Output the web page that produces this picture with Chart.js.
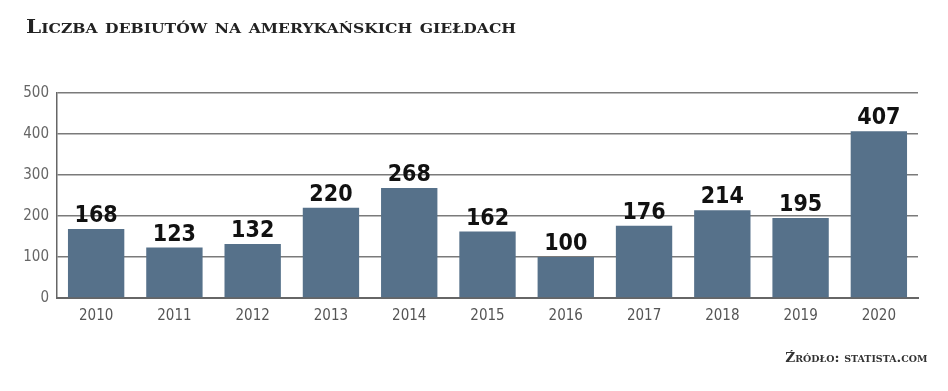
<!DOCTYPE html>
<html>
<head>
<meta charset="utf-8">
<script src="https://cdn.jsdelivr.net/npm/chart.js@4"></script>
<style>
    html, body { margin: 0; padding: 0; background: #fff; }
    #wrap { position: relative; width: 948px; height: 391px; }
    #title {
        position: absolute; left: 26px; top: 16px;
        font-family: 'DejaVu Serif', serif; font-weight: bold;
        font-variant: small-caps; font-size: 18px; color: #222;
        white-space: nowrap;
        transform: scaleX(1.2); transform-origin: left top;
    }
    #source {
        position: absolute; right: 21px; top: 350px;
        font-family: 'DejaVu Serif', serif; font-weight: bold;
        font-variant: small-caps; font-size: 13px; color: #333;
        white-space: nowrap;
        transform: scaleX(1.05); transform-origin: right top;
    }
</style>
</head>
<body>
<div id="wrap">
    <canvas id="chart" width="948" height="391"></canvas>
    <div id="title">Liczba debiutów na amerykańskich giełdach</div>
    <div id="source">Źródło: statista.com</div>
</div>
<script>
// --- DATA ---
const years = ['2010', '2011', '2012', '2013', '2014', '2015', '2016', '2017', '2018', '2019', '2020'];
const ipoCounts = [168, 123, 132, 220, 268, 162, 100, 176, 214, 195, 407];
const yTicks = [0, 100, 200, 300, 400, 500];

const condensed = "'DejaVu Sans Condensed', 'Liberation Sans Narrow', sans-serif";
const narrow = "'Liberation Sans Narrow', 'DejaVu Sans Condensed', sans-serif";

// Draw the value above each bar
const valueLabels = {
    id: 'valueLabels',
    afterDatasetsDraw(chart) {
        const ctx = chart.ctx;
        const meta = chart.getDatasetMeta(0);
        ctx.save();
        ctx.font = 'bold 23px ' + narrow;
        ctx.fillStyle = '#111';
        ctx.textAlign = 'center';
        ctx.textBaseline = 'alphabetic';
        meta.data.forEach((bar, i) => {
            ctx.fillText(ipoCounts[i], bar.x, bar.y - 7);
        });
        ctx.restore();
    }
};

new Chart(document.getElementById('chart'), {
    type: 'bar',
    data: {
        labels: years,
        datasets: [{
            data: ipoCounts,
            backgroundColor: '#56718a',
            borderWidth: 0,
            categoryPercentage: 1,
            barPercentage: 0.72
        }]
    },
    options: {
        responsive: false,
        animation: false,
        layout: { padding: { top: 93, right: 30, left: 0, bottom: 0 } },
        plugins: {
            legend: { display: false },
            tooltip: { enabled: false }
        },
        scales: {
            y: {
                min: 0,
                max: 500,
                afterFit: (s) => { s.width = 57; },
                afterBuildTicks: (s) => { s.ticks = yTicks.map(v => ({ value: v })); },
                grid: { color: '#7a7a7a', lineWidth: 1.5, drawTicks: false },
                border: { color: '#666', width: 1.5 },
                ticks: { color: '#666', padding: 8, font: { family: condensed, size: 15 } }
            },
            x: {
                afterFit: (s) => { s.height = 93; },
                grid: { display: false, drawTicks: false },
                border: { color: '#666', width: 2 },
                ticks: { color: '#555', padding: 9, font: { family: condensed, size: 15 } }
            }
        }
    },
    plugins: [valueLabels]
});
</script>
</body>
</html>
